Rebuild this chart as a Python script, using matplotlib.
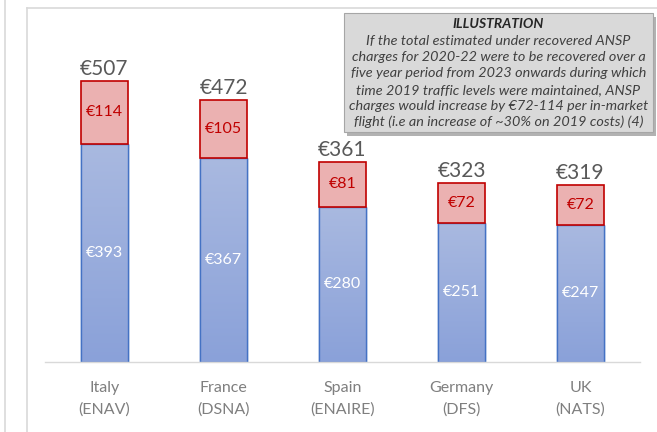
import matplotlib
matplotlib.use("Agg")
import matplotlib.pyplot as plt
import numpy as np
from matplotlib.patches import Rectangle
from matplotlib.lines import Line2D
from matplotlib.colors import LinearSegmentedColormap

categories = ["Italy\n(ENAV)", "France\n(DSNA)", "Spain\n(ENAIRE)", "Germany\n(DFS)", "UK\n(NATS)"]
base_2019 = [393, 367, 280, 251, 247]
increase = [114, 105, 81, 72, 72]
totals = [507, 472, 361, 323, 319]

note_title = "ILLUSTRATION"
note_lines = [
    "If the total estimated under recovered ANSP",
    "charges for 2020-22 were to be recovered over a",
    "five year period from 2023 onwards during which",
    "time 2019 traffic levels were maintained, ANSP",
    "charges would increase by €72-114 per in-market",
    "flight (i.e an increase of ~30% on 2019 costs) (4)",
]

plt.rcParams['font.family'] = ['Lato', 'DejaVu Sans']

W, H = 657, 432
fig = plt.figure(figsize=(W / 100, H / 100), dpi=100)
ax = fig.add_axes([45 / W, (H - 362) / H, (640 - 45) / W, (362 - 29) / H])

x = np.arange(len(categories))
bw = 0.4
blue_bars = ax.bar(x, base_2019, width=bw, color="#9db0dc", edgecolor="#4472c4", linewidth=1.0, zorder=2)
red_bars = ax.bar(x, increase, bottom=base_2019, width=bw, color="#ebb1b1", edgecolor="#c00000", linewidth=1.2, zorder=3)

# vertical gradient in blue bars
grad = np.linspace(0, 1, 256).reshape(-1, 1)
cmap = LinearSegmentedColormap.from_list("g", ["#8aa1d9", "#a9b9e0"])
for b in blue_bars:
    bx, by = b.get_x(), b.get_y()
    im = ax.imshow(grad, extent=[bx, bx + b.get_width(), by, by + b.get_height()],
                   origin="lower", cmap=cmap, aspect="auto", zorder=2.1)
    im.set_clip_path(b)
    r = Rectangle((bx, by), b.get_width(), b.get_height(), fill=False,
                  edgecolor="#4472c4", linewidth=1.0, zorder=2.2)
    ax.add_patch(r)

ax.set_xlim(-0.5, len(categories) - 0.5)
ax.set_ylim(0, 600)

for i in range(len(categories)):
    ax.text(x[i], base_2019[i] / 2, f"€{base_2019[i]}", ha="center", va="center",
            color="white", fontsize=11.5, zorder=5)
    ax.text(x[i], base_2019[i] + increase[i] / 2, f"€{increase[i]}", ha="center", va="center",
            color="#c00000", fontsize=11.5, zorder=5)
    ax.text(x[i], totals[i] + 3, f"€{totals[i]}", ha="center", va="bottom",
            color="#595959", fontsize=15, zorder=5)

for s in ["top", "right", "left"]:
    ax.spines[s].set_visible(False)
ax.spines["bottom"].set_color("#d9d9d9")
ax.spines["bottom"].set_linewidth(1.0)
ax.set_yticks([])
ax.set_xticks(x)
ax.set_xticklabels(categories, color="#7f7f7f", fontsize=11.5, linespacing=1.6)
ax.tick_params(axis="x", length=0, pad=14)

# frame lines
fig.add_artist(Line2D([5 / W, 5 / W], [0, 1], color="#d9d9d9", lw=1.2))
fig.add_artist(Line2D([27 / W, 27 / W], [0, (H - 8) / H], color="#d9d9d9", lw=1.2))
fig.add_artist(Line2D([27 / W, 1], [(H - 8) / H, (H - 8) / H], color="#d9d9d9", lw=1.2))

# annotation box with shadow
bx0, bx1, by0, by1 = 344, 653, 13, 132
shadow = Rectangle(((bx0 + 3) / W, (H - by1 - 4) / H), (bx1 - bx0) / W, (by1 - by0) / H,
                   transform=fig.transFigure, facecolor="#7f7f7f", edgecolor="none", alpha=0.6, zorder=9)
fig.add_artist(shadow)
box = Rectangle((bx0 / W, (H - by1) / H), (bx1 - bx0) / W, (by1 - by0) / H,
                transform=fig.transFigure, facecolor="#d9d9d9", edgecolor="#a6a6a6", lw=0.8, zorder=10)
fig.add_artist(box)
cx = (bx0 + bx1) / 2 / W
fig.text(cx, (H - 24) / H, note_title, ha="center", va="center", fontsize=10,
         fontweight="bold", fontstyle="italic", color="#262626", zorder=11)
ys = [41, 57, 73, 90, 106, 122]
for yy, line in zip(ys, note_lines):
    fig.text(cx, (H - yy) / H, line, ha="center", va="center", fontsize=10.4,
             fontstyle="italic", color="#404040", zorder=11)

fig.savefig("out.png", dpi=100)
